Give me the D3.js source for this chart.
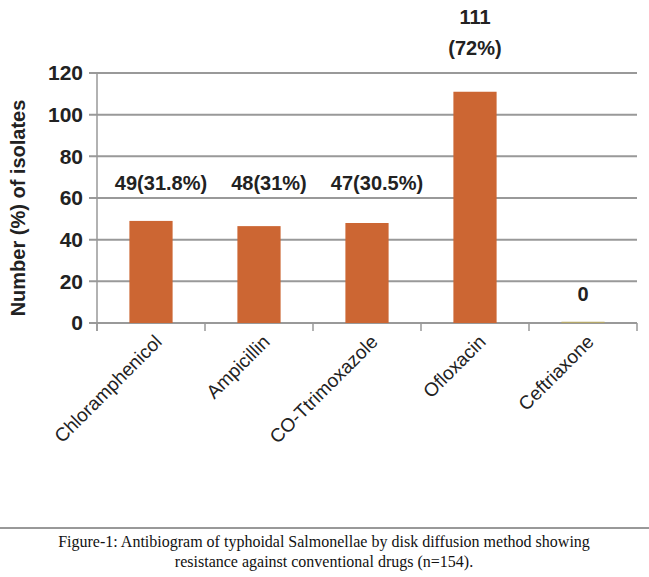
<!DOCTYPE html>
<html><head><meta charset="utf-8">
<script src="https://cdn.jsdelivr.net/npm/d3@7"></script>
<style>body{margin:0;background:#fff}</style>
</head><body>
<svg id="chart" width="649" height="577"></svg>
<script>
const categories = ['Chloramphenicol', 'Ampicillin', 'CO-Ttrimoxazole', 'Ofloxacin', 'Ceftriaxone'];
const values = [49, 46.5, 48, 111, 0.6];
const labels = [['49(31.8%)'], ['48(31%)'], ['47(30.5%)'], ['111', '(72%)'], ['0']];
const yTicks = [0, 20, 40, 60, 80, 100, 120];

const margin = { top: 73, left: 97, right: 12 };
const width = 649 - margin.left - margin.right;
const height = 323 - margin.top;

const svg = d3.select('#chart');
const g = svg.append('g').attr('transform', `translate(${margin.left},${margin.top})`);

const x = d3.scaleBand().domain(categories).range([0, width]).paddingInner(0.6).paddingOuter(0.3);
const y = d3.scaleLinear().domain([0, 120]).range([height, 0]);

g.selectAll('.grid').data(yTicks).enter().append('line')
  .attr('x1', -8).attr('x2', width).attr('y1', d => y(d)).attr('y2', d => y(d))
  .attr('stroke', '#999').attr('stroke-width', 2);

g.append('line').attr('x1', 0).attr('x2', 0).attr('y1', 0).attr('y2', height + 8)
  .attr('stroke', '#999').attr('stroke-width', 1.5);

const step = width / categories.length;
g.selectAll('.tick').data(d3.range(categories.length + 1)).enter().append('line')
  .attr('x1', d => d * step).attr('x2', d => d * step)
  .attr('y1', height).attr('y2', height + 8).attr('stroke', '#999').attr('stroke-width', 1.5);

g.selectAll('.ylab').data(yTicks).enter().append('text')
  .attr('x', -14).attr('y', d => y(d)).attr('dy', '0.35em').attr('text-anchor', 'end')
  .attr('font-family', 'Liberation Sans Narrow, Arial Narrow, sans-serif').attr('font-weight', 'bold')
  .attr('font-size', 21).attr('fill', '#222').text(d => d);

g.selectAll('.bar').data(values).enter().append('rect')
  .attr('x', (d, i) => x(categories[i])).attr('width', x.bandwidth())
  .attr('y', d => y(d)).attr('height', d => height - y(d))
  .attr('fill', (d, i) => i === 4 ? '#b5a86a' : '#cc6633');

labels.forEach((lines, i) => {
  const cx = x(categories[i]) + x.bandwidth() / 2;
  const baseY = i === 3 ? -49 : (i === 4 ? y(0) - 22 : y(60) - 8);
  lines.forEach((t, j) => {
    g.append('text').attr('x', cx + (i < 3 ? 10 : 0)).attr('y', baseY + j * 31)
      .attr('text-anchor', 'middle')
      .attr('font-family', 'Liberation Sans Narrow, Arial Narrow, sans-serif').attr('font-weight', 'bold')
      .attr('font-size', 20).attr('fill', '#222').text(t);
  });
});

categories.forEach((c, i) => {
  const cx = x(c) + x.bandwidth() / 2 + 12;
  g.append('text').attr('transform', `translate(${cx},${height + 20}) rotate(-45)`)
    .attr('text-anchor', 'end').attr('font-family', 'Liberation Sans, Arial, sans-serif')
    .attr('font-size', 19).attr('fill', '#222').text(c);
});

svg.append('text').attr('transform', `translate(25,${margin.top + height / 2 + 10}) rotate(-90)`)
  .attr('text-anchor', 'middle').attr('font-family', 'Liberation Sans, Arial, sans-serif')
  .attr('font-weight', 'bold').attr('font-size', 20).attr('fill', '#222').text('Number (%) of isolates');

svg.append('line').attr('x1', 0).attr('x2', 649).attr('y1', 528).attr('y2', 528)
  .attr('stroke', '#333').attr('stroke-width', 1);
const cap = ['Figure-1: Antibiogram of typhoidal Salmonellae by disk diffusion method showing',
  'resistance against conventional drugs (n=154).'];
cap.forEach((t, j) => svg.append('text').attr('x', 324).attr('y', 547 + j * 20)
  .attr('text-anchor', 'middle').attr('font-family', 'Liberation Serif, Times New Roman, serif')
  .attr('font-size', 16).attr('fill', '#111').text(t));
</script>
</body></html>
